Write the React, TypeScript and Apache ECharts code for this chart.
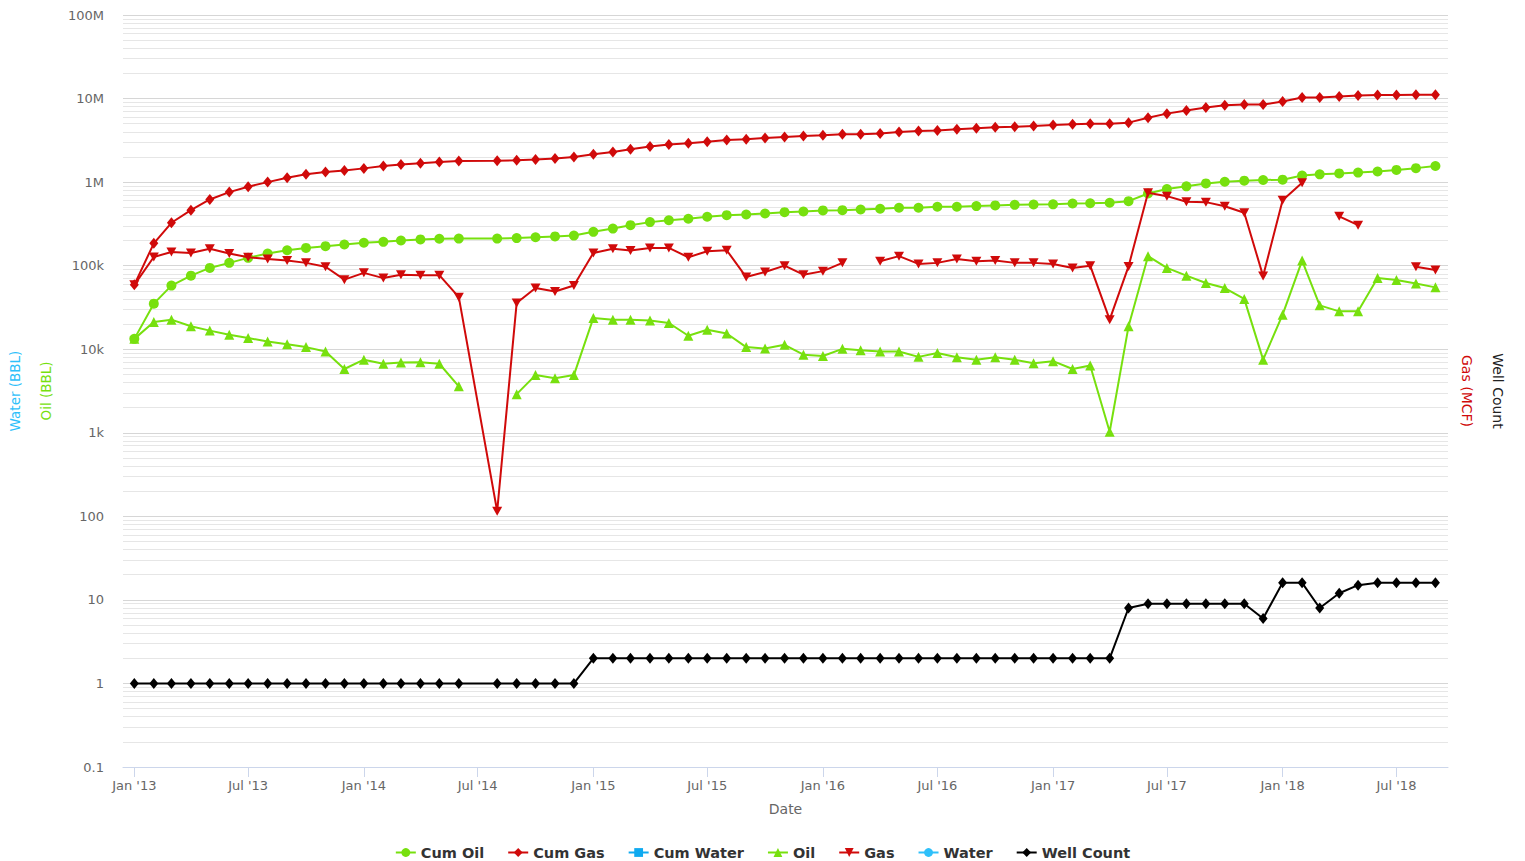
import React, { useEffect, useRef } from 'react';
import * as echarts from 'echarts';

const months = [
  '2013-01-01', '2013-02-01', '2013-03-01', '2013-04-01', '2013-05-01', '2013-06-01',
  '2013-07-01', '2013-08-01', '2013-09-01', '2013-10-01', '2013-11-01', '2013-12-01',
  '2014-01-01', '2014-02-01', '2014-03-01', '2014-04-01', '2014-05-01', '2014-06-01',
  '2014-08-01', '2014-09-01', '2014-10-01', '2014-11-01', '2014-12-01',
  '2015-01-01', '2015-02-01', '2015-03-01', '2015-04-01', '2015-05-01', '2015-06-01',
  '2015-07-01', '2015-08-01', '2015-09-01', '2015-10-01', '2015-11-01', '2015-12-01',
  '2016-01-01', '2016-02-01', '2016-03-01', '2016-04-01', '2016-05-01', '2016-06-01',
  '2016-07-01', '2016-08-01', '2016-09-01', '2016-10-01', '2016-11-01', '2016-12-01',
  '2017-01-01', '2017-02-01', '2017-03-01', '2017-04-01', '2017-05-01', '2017-06-01',
  '2017-07-01', '2017-08-01', '2017-09-01', '2017-10-01', '2017-11-01', '2017-12-01',
  '2018-01-01', '2018-02-01', '2018-03-01', '2018-04-01', '2018-05-01', '2018-06-01',
  '2018-07-01', '2018-08-01', '2018-09-01',
];

const cumOil = [
  13300, 35100, 57700, 76000, 94000, 108000, 124000, 140000, 153000, 163000, 171000, 179000,
  188000, 193000, 200000, 206000, 210000, 211000,
  211000, 214000, 219000, 224000, 229000,
  254000, 278000, 305000, 332000, 350000, 364000, 385000, 402000, 410000, 421000, 437000, 445000,
  458000, 462000, 470000, 480000, 493000, 493000, 507000, 507000, 516000, 526000, 535000, 540000,
  542000, 555000, 558000, 566000, 592000, 730000, 825000, 890000, 965000, 1010000, 1040000, 1060000,
  1070000, 1200000, 1240000, 1270000, 1300000, 1340000, 1400000, 1470000, 1560000,
];

const cumGas = [
  59000, 185000, 326000, 462000, 620000, 759000, 881000, 1000000, 1130000, 1240000, 1320000, 1380000,
  1460000, 1560000, 1630000, 1680000, 1740000, 1790000,
  1800000, 1830000, 1870000, 1920000, 2000000,
  2150000, 2290000, 2470000, 2660000, 2810000, 2910000, 3050000, 3190000, 3250000, 3370000, 3460000, 3560000,
  3630000, 3730000, 3730000, 3830000, 3970000, 4080000, 4160000, 4280000, 4400000, 4530000, 4600000, 4690000,
  4820000, 4920000, 5010000, 5010000, 5150000, 5900000, 6600000, 7200000, 7800000, 8300000, 8500000, 8500000,
  9200000, 10300000, 10300000, 10600000, 10900000, 11000000, 11000000, 11100000, 11100000,
];

const cumWater: (number | null)[] = [];

const oil = [
  13300, 21200, 22600, 18800, 16700, 14900, 13600, 12400, 11500, 10600, 9400, 5800,
  7500, 6700, 6950, 7000, 6700, 3600,
  null, 2900, 4900, 4500, 4900,
  23700, 22600, 22600, 22000, 20600, 14500, 17100, 15400, 10600, 10200, 11300, 8600,
  8300, 10100, 9700, 9400, 9400, 8100, 9000, 8000, 7500, 8000, 7500, 6800,
  7200, 5800, 6400, 1030, 18800, 130000, 94000, 76000, 62000, 54000, 40000, 7500,
  25900, 115000, 33500, 28400, 28400, 71000, 67500, 61000, 55000,
];

const gas = [
  59000, 127000, 146000, 142000, 159000, 140000, 126000, 120000, 115000, 108000, 97000, 68000,
  82000, 71000, 78000, 77000, 77000, 42000,
  115, 35800, 54000, 49000, 58000,
  142000, 159000, 152000, 163000, 163000, 126000, 149000, 153000, 73000, 84000, 100000, 78000,
  86000, 108000, null, 113000, 130000, 105000, 108000, 120000, 113000, 115000, 108000, 108000,
  105000, 94000, 100000, 22600, 98000, 746000, 679000, 582000, 576000, 515000, 430000, 75000,
  608000, 980000, null, 390000, 305000, null, null, 97000, 89000,
];

const water: (number | null)[] = [];

const wellCount = [
  1, 1, 1, 1, 1, 1, 1, 1, 1, 1, 1, 1,
  1, 1, 1, 1, 1, 1,
  1, 1, 1, 1, 1,
  2, 2, 2, 2, 2, 2, 2, 2, 2, 2, 2, 2,
  2, 2, 2, 2, 2, 2, 2, 2, 2, 2, 2, 2,
  2, 2, 2, 2, 8, 9, 9, 9, 9, 9, 9, 6,
  16, 16, 8, 12, 15, 16, 16, 16, 16,
];

const yTickLabels = ['0.1', '1', '10', '100', '1k', '10k', '100k', '1M', '10M', '100M'];
const monthNames = ['Jan', 'Feb', 'Mar', 'Apr', 'May', 'Jun', 'Jul', 'Aug', 'Sep', 'Oct', 'Nov', 'Dec'];
const legendNames = ['Cum Oil', 'Cum Gas', 'Cum Water', 'Oil', 'Gas', 'Water', 'Well Count'];

const GREEN = '#77E00E';
const RED = '#D00A0A';
const BLUE = '#0FAAF0';
const LIGHTBLUE = '#2EC0FA';
const BLACK = '#000000';
const FONT = 'DejaVu Sans';

const pair = (arr: (number | null)[]) =>
  arr.length ? months.map((m, i) => [m, arr[i] == null ? '-' : arr[i]]) : [];

const minorValues: number[] = [];
for (let e = -1; e < 8; e++) {
  for (let k = 2; k <= 9; k++) minorValues.push(Number((k * Math.pow(10, e)).toPrecision(3)));
}

const DOWN_TRI = 'path://M0,0 L10,0 L5,9 Z';

export default function App() {
  const ref = useRef<HTMLDivElement>(null);
  useEffect(() => {
    if (!ref.current) return;
    const chart = echarts.init(ref.current, undefined, { renderer: 'svg' });
    const mk = (name: string, data: (number | null)[], color: string, symbol: string, size: number | number[], z: number) => ({
      name,
      type: 'line',
      data: pair(data),
      symbol,
      symbolSize: size,
      showSymbol: true,
      z,
      itemStyle: { color },
      lineStyle: { color, width: 2 },
      emphasis: { disabled: true },
    });
    const option: any = {
      animation: false,
      backgroundColor: '#ffffff',
      textStyle: { fontFamily: FONT },
      grid: { left: 123, right: 77, top: 15, bottom: 94, containLabel: false },
      legend: {
        data: legendNames,
        top: 840,
        left: 'center',
        itemWidth: 20,
        itemHeight: 11,
        itemGap: 23,
        textStyle: { fontSize: 14.5, fontWeight: 'bold', color: '#333333', fontFamily: FONT },
      },
      xAxis: {
        type: 'time',
        min: '2012-12-14',
        max: '2018-09-21',
        minInterval: 182.5 * 86400000,
        maxInterval: 182.5 * 86400000,
        name: 'Date',
        nameLocation: 'middle',
        nameGap: 35,
        nameTextStyle: { color: '#666666', fontSize: 14, fontFamily: FONT },
        axisLine: { lineStyle: { color: '#ccd6eb', width: 1 } },
        axisTick: { show: true, length: 10, lineStyle: { color: '#ccd6eb' } },
        splitLine: { show: false },
        axisLabel: {
          color: '#666666',
          fontSize: 13,
          fontFamily: FONT,
          margin: 12,
          showMinLabel: false,
          showMaxLabel: false,
          formatter: (v: number) => {
            const d = new Date(v);
            return monthNames[d.getMonth()] + " '" + String(d.getFullYear()).slice(2);
          },
        },
      },
      yAxis: {
        type: 'log',
        logBase: 10,
        min: 0.1,
        max: 100000000,
        interval: 1,
        axisLine: { show: false },
        axisTick: { show: false },
        splitLine: { show: true, lineStyle: { color: '#d6d6d6', width: 1 } },
        axisLabel: {
          color: '#666666',
          fontSize: 13,
          fontFamily: FONT,
          margin: 19,
          formatter: (v: number) => yTickLabels[Math.round(Math.log10(v)) + 1] ?? '',
        },
      },
      graphic: [
        { type: 'text', x: 15, y: 391, rotation: Math.PI / 2, style: { text: 'Water (BBL)', fill: LIGHTBLUE, fontSize: 13.5, fontFamily: FONT, align: 'center', verticalAlign: 'middle' } },
        { type: 'text', x: 46, y: 391, rotation: Math.PI / 2, style: { text: 'Oil (BBL)', fill: GREEN, fontSize: 13.5, fontFamily: FONT, align: 'center', verticalAlign: 'middle' } },
        { type: 'text', x: 1467, y: 391, rotation: -Math.PI / 2, style: { text: 'Gas (MCF)', fill: RED, fontSize: 14, fontFamily: FONT, align: 'center', verticalAlign: 'middle' } },
        { type: 'text', x: 1498, y: 391, rotation: -Math.PI / 2, style: { text: 'Well Count', fill: '#222222', fontSize: 14, fontFamily: FONT, align: 'center', verticalAlign: 'middle' } },
      ],
      series: [
        {
          name: 'minorGrid',
          type: 'line',
          data: [],
          silent: true,
          z: 0,
          markLine: {
            silent: true,
            z: 0,
            symbol: ['none', 'none'],
            label: { show: false },
            lineStyle: { color: '#e6e6e6', type: 'solid', width: 1 },
            emphasis: { disabled: true },
            data: minorValues.map((v) => ({ yAxis: v })),
          },
        },
        mk('Cum Oil', cumOil, GREEN, 'circle', 10, 2),
        mk('Cum Gas', cumGas, RED, 'diamond', [9, 11], 3),
        mk('Cum Water', cumWater, BLUE, 'rect', 9, 4),
        mk('Oil', oil, GREEN, 'triangle', 10, 5),
        mk('Gas', gas, RED, DOWN_TRI, [10, 9], 6),
        mk('Water', water, LIGHTBLUE, 'circle', 10, 7),
        mk('Well Count', wellCount, BLACK, 'diamond', [9, 11], 8),
      ],
    };
    chart.setOption(option);
    return () => chart.dispose();
  }, []);
  return <div ref={ref} style={{ width: 1525, height: 861, position: 'absolute', left: 0, top: 0 }} />;
}
